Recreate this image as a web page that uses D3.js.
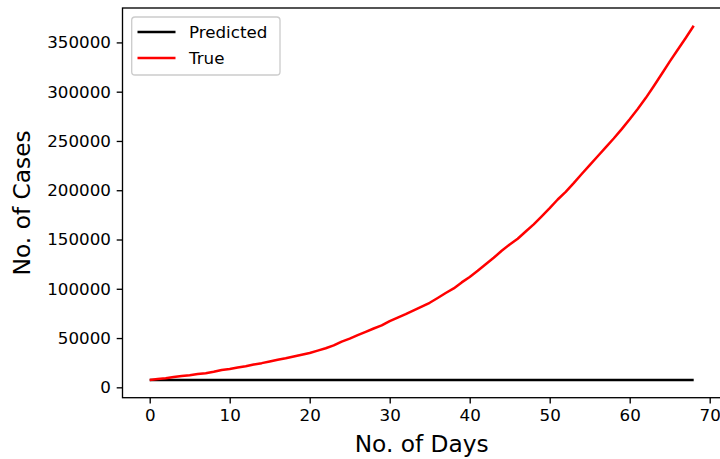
<!DOCTYPE html>
<html>
<head>
<meta charset="utf-8">
<script src="https://cdn.jsdelivr.net/npm/d3@7"></script>
<style>
  html, body { margin: 0; padding: 0; background: #fff; }
  svg { display: block; font-family: "DejaVu Sans", sans-serif; }
</style>
</head>
<body>
<svg id="chart" width="720" height="459"></svg>
<script>
const days = d3.range(0, 69);
const trueCases = [
  7447, 8446, 9205, 10453, 11487, 12322, 13430, 14352, 15722, 17615,
  18539, 20080, 21370, 23077, 24530, 26283, 27890, 29451, 31324, 33062,
  34863, 37257, 39699, 42505, 46437, 49400, 52987, 56351, 59695, 62808,
  67161, 70768, 74292, 78055, 81997, 85784, 90648, 95698, 100328, 106475,
  112028, 118226, 124794, 131423, 138536, 144950, 150793, 158086, 165386, 173491,
  181827, 190609, 198370, 207191, 216500, 225500, 234500, 243500, 252500, 262000,
  272000, 282500, 293500, 305500, 318000, 330500, 342500, 354500, 366946
];
const predictedCases = [
  7500, 7500, 7500, 7500, 7500, 7500, 7500, 7500, 7500, 7500,
  7500, 7500, 7500, 7500, 7500, 7500, 7500, 7500, 7500, 7500,
  7500, 7500, 7500, 7500, 7500, 7500, 7500, 7500, 7500, 7500,
  7500, 7500, 7500, 7500, 7500, 7500, 7500, 7500, 7500, 7500,
  7500, 7500, 7500, 7500, 7500, 7500, 7500, 7500, 7500, 7500,
  7500, 7500, 7500, 7500, 7500, 7500, 7500, 7500, 7500, 7500,
  7500, 7500, 7500, 7500, 7500, 7500, 7500, 7500, 7500
];
const xTicks = [0, 10, 20, 30, 40, 50, 60, 70];
const yTicks = [0, 50000, 100000, 150000, 200000, 250000, 300000, 350000];
const seriesNames = ["Predicted", "True"];
const seriesColors = ["#000000", "#ff0000"];

const svg = d3.select("#chart");
const L = 122.5, R = 720.9, T = 8, B = 397.7;

const xmin = d3.min(days), xmax = d3.max(days);
const xm = (xmax - xmin) * 0.05;
const x = d3.scaleLinear().domain([xmin - xm, xmax + xm]).range([L, R]);
const allY = trueCases.concat(predictedCases);
const ymin = d3.min(allY), ymax = d3.max(allY);
const ym = (ymax - ymin) * 0.05;
const y = d3.scaleLinear().domain([ymin - ym, ymax + ym]).range([B, T]);

const fs = 16.7;

// axes
const xAxis = d3.axisBottom(x).tickValues(xTicks).tickSize(5.8).tickPadding(5.8).tickFormat(d3.format("d"));
const gx = svg.append("g").attr("transform", `translate(0,${B})`).call(xAxis);
gx.select(".domain").remove();
gx.selectAll("line").attr("stroke", "#000").attr("stroke-width", 1.33);
gx.selectAll("text").attr("font-size", fs).attr("font-family", "DejaVu Sans").attr("fill", "#000");

const yAxis = d3.axisLeft(y).tickValues(yTicks).tickSize(5.8).tickPadding(5.8).tickFormat(d3.format("d"));
const gy = svg.append("g").attr("transform", `translate(${L},0)`).call(yAxis);
gy.select(".domain").remove();
gy.selectAll("line").attr("stroke", "#000").attr("stroke-width", 1.33);
gy.selectAll("text").attr("font-size", fs).attr("font-family", "DejaVu Sans").attr("fill", "#000");

// lines
const line = d3.line().x((d, i) => x(days[i])).y(d => y(d));
svg.append("clipPath").attr("id", "clip").append("rect")
  .attr("x", L).attr("y", T).attr("width", R - L).attr("height", B - T);
svg.append("path").datum(predictedCases).attr("d", line)
  .attr("fill", "none").attr("stroke", seriesColors[0]).attr("stroke-width", 2.5)
  .attr("clip-path", "url(#clip)");
svg.append("path").datum(trueCases).attr("d", line)
  .attr("fill", "none").attr("stroke", seriesColors[1]).attr("stroke-width", 2.5)
  .attr("stroke-linejoin", "round").attr("clip-path", "url(#clip)");

// spines
svg.append("rect").attr("x", L).attr("y", T).attr("width", R - L).attr("height", B - T)
  .attr("fill", "none").attr("stroke", "#000").attr("stroke-width", 1.33);

// axis labels
svg.append("text").attr("x", (L + R) / 2).attr("y", 452).attr("text-anchor", "middle")
  .attr("font-size", 23.3).attr("fill", "#000").text("No. of Days");
svg.append("text").attr("transform", `translate(30,${(T + B) / 2}) rotate(-90)`)
  .attr("text-anchor", "middle").attr("font-size", 23.3).attr("fill", "#000").text("No. of Cases");

// legend
const lg = svg.append("g");
lg.append("rect").attr("x", 131.7).attr("y", 17).attr("width", 148.3).attr("height", 58)
  .attr("rx", 3.3).attr("fill", "#fff").attr("fill-opacity", 0.8)
  .attr("stroke", "#cccccc").attr("stroke-width", 1.33);
seriesNames.forEach((name, i) => {
  const cy = 32 + i * 26;
  lg.append("line").attr("x1", 137.5).attr("x2", 175.5).attr("y1", cy).attr("y2", cy)
    .attr("stroke", seriesColors[i]).attr("stroke-width", 2.5);
  lg.append("text").attr("x", 189).attr("y", cy + 6).attr("font-size", fs).attr("fill", "#000").text(name);
});
</script>
</body>
</html>
